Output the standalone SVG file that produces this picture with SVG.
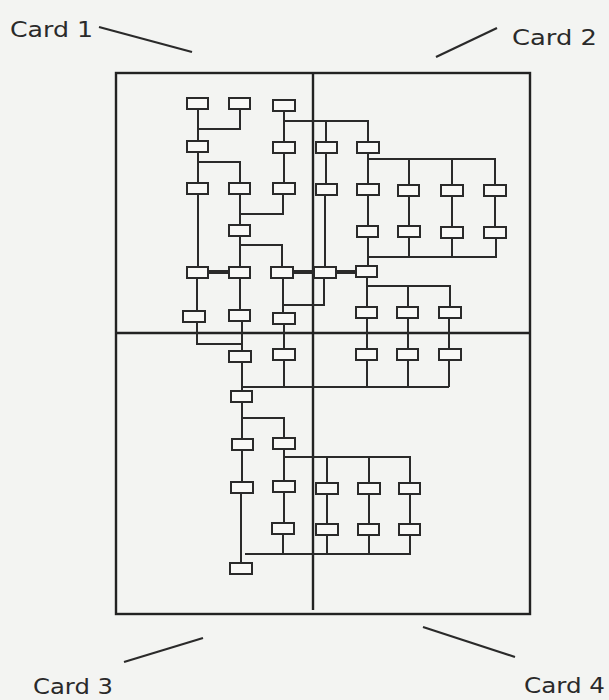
<svg xmlns="http://www.w3.org/2000/svg" width="609" height="700" viewBox="0 0 609 700">
<style>
.bg{fill:#f3f4f2}
.frame{fill:none;stroke:#222;stroke-width:2.4}
.div{stroke:#222;stroke-width:2.4;fill:none}
.n{fill:#f8f8f6;stroke:#2a2a2a;stroke-width:2}
.c{stroke:#2a2a2a;stroke-width:2;fill:none}
.t{stroke:#2a2a2a;stroke-width:4;fill:none}
.lead{stroke:#2a2a2a;stroke-width:2.2;fill:none}
.lbl{font-family:"DejaVu Sans","Liberation Sans",sans-serif;font-size:21px;fill:#2a2a2a}
</style>
<rect class="bg" x="0" y="0" width="609" height="700"/>
<g id="labels">
<text class="lbl" x="10" y="37" textLength="83" lengthAdjust="spacingAndGlyphs">Card 1</text>
<text class="lbl" x="512" y="45" textLength="85" lengthAdjust="spacingAndGlyphs">Card 2</text>
<text class="lbl" x="33" y="694" textLength="80" lengthAdjust="spacingAndGlyphs">Card 3</text>
<text class="lbl" x="524" y="693" textLength="81" lengthAdjust="spacingAndGlyphs">Card 4</text>
<line class="lead" x1="99" y1="27" x2="192" y2="52"/>
<line class="lead" x1="436" y1="57" x2="497" y2="28"/>
<line class="lead" x1="124" y1="662" x2="203" y2="638"/>
<line class="lead" x1="423" y1="627" x2="515" y2="657"/>
</g>
<g id="board">
<rect class="frame" x="116" y="73" width="414" height="541"/>
<line class="div" x1="313" y1="73" x2="313" y2="610"/>
<line class="div" x1="116" y1="333" x2="530" y2="333"/>
</g>
<g id="connectors">
<path class="c" d="M198 109V141M198 152V183M198 194V267M197 278V311M197 322V344H242"/>
<path class="c" d="M198 129H240V109M198 162H240V183"/>
<path class="c" d="M284 111V142M284 153V183M284 121H368V142M326 121V142"/>
<path class="c" d="M240 194V225M240 214H283V194M240 236V267M240 245H282V267"/>
<path class="t" d="M208 272H229M292 272H314M335 272H356"/>
<path class="c" d="M240 278V310M283 278V313M283 305H324V278"/>
<path class="c" d="M242 321V351M284 324V349M242 362V391M284 360V387M242 387H449M367 318V387M408 318V387M449 318V387"/>
<path class="c" d="M326 153V184M325 195V267M368 153V184M368 159H495V185M409 159V185M452 159V185"/>
<path class="c" d="M368 195V226M409 196V226M452 196V227M495 196V227"/>
<path class="c" d="M368 237V266M368 257H496V238M409 237V257M452 238V257"/>
<path class="c" d="M367 277V307M367 286H450V307M408 286V307"/>
<path class="c" d="M242 402V439M242 418H284V438M242 450V482M284 449V481M284 457H410V483M327 457V483M369 457V483"/>
<path class="c" d="M241 493V563M284 492V523M327 494V524M369 494V524M410 494V524M245 554H411M283 534V554M327 535V554M369 535V554M410 535V554"/>
</g>
<g id="nodes">
<g id="n1"><rect class="n" x="187" y="98" width="21" height="11"/></g>
<g id="n2"><rect class="n" x="229" y="98" width="21" height="11"/></g>
<g id="n3"><rect class="n" x="273" y="100" width="22" height="11"/></g>
<g id="n4"><rect class="n" x="187" y="141" width="21" height="11"/></g>
<g id="n5"><rect class="n" x="273" y="142" width="22" height="11"/></g>
<g id="n6"><rect class="n" x="187" y="183" width="21" height="11"/></g>
<g id="n7"><rect class="n" x="229" y="183" width="21" height="11"/></g>
<g id="n8"><rect class="n" x="273" y="183" width="22" height="11"/></g>
<g id="n9"><rect class="n" x="229" y="225" width="21" height="11"/></g>
<g id="n10"><rect class="n" x="187" y="267" width="21" height="11"/></g>
<g id="n11"><rect class="n" x="229" y="267" width="21" height="11"/></g>
<g id="n12"><rect class="n" x="271" y="267" width="22" height="11"/></g>
<g id="n13"><rect class="n" x="183" y="311" width="22" height="11"/></g>
<g id="n14"><rect class="n" x="229" y="310" width="21" height="11"/></g>
<g id="n15"><rect class="n" x="273" y="313" width="22" height="11"/></g>
<g id="n16"><rect class="n" x="316" y="142" width="21" height="11"/></g>
<g id="n17"><rect class="n" x="357" y="142" width="22" height="11"/></g>
<g id="n18"><rect class="n" x="316" y="184" width="21" height="11"/></g>
<g id="n19"><rect class="n" x="357" y="184" width="22" height="11"/></g>
<g id="n20"><rect class="n" x="398" y="185" width="21" height="11"/></g>
<g id="n21"><rect class="n" x="441" y="185" width="22" height="11"/></g>
<g id="n22"><rect class="n" x="484" y="185" width="22" height="11"/></g>
<g id="n23"><rect class="n" x="357" y="226" width="21" height="11"/></g>
<g id="n24"><rect class="n" x="398" y="226" width="22" height="11"/></g>
<g id="n25"><rect class="n" x="441" y="227" width="22" height="11"/></g>
<g id="n26"><rect class="n" x="484" y="227" width="22" height="11"/></g>
<g id="n27"><rect class="n" x="314" y="267" width="22" height="11"/></g>
<g id="n28"><rect class="n" x="356" y="266" width="21" height="11"/></g>
<g id="n29"><rect class="n" x="356" y="307" width="21" height="11"/></g>
<g id="n30"><rect class="n" x="397" y="307" width="21" height="11"/></g>
<g id="n31"><rect class="n" x="439" y="307" width="22" height="11"/></g>
<g id="n32"><rect class="n" x="356" y="349" width="21" height="11"/></g>
<g id="n33"><rect class="n" x="397" y="349" width="21" height="11"/></g>
<g id="n34"><rect class="n" x="439" y="349" width="22" height="11"/></g>
<g id="n35"><rect class="n" x="229" y="351" width="22" height="11"/></g>
<g id="n36"><rect class="n" x="273" y="349" width="22" height="11"/></g>
<g id="n37"><rect class="n" x="231" y="391" width="21" height="11"/></g>
<g id="n38"><rect class="n" x="232" y="439" width="21" height="11"/></g>
<g id="n39"><rect class="n" x="273" y="438" width="22" height="11"/></g>
<g id="n40"><rect class="n" x="231" y="482" width="22" height="11"/></g>
<g id="n41"><rect class="n" x="273" y="481" width="22" height="11"/></g>
<g id="n42"><rect class="n" x="316" y="483" width="22" height="11"/></g>
<g id="n43"><rect class="n" x="358" y="483" width="22" height="11"/></g>
<g id="n44"><rect class="n" x="399" y="483" width="21" height="11"/></g>
<g id="n45"><rect class="n" x="272" y="523" width="22" height="11"/></g>
<g id="n46"><rect class="n" x="316" y="524" width="22" height="11"/></g>
<g id="n47"><rect class="n" x="358" y="524" width="21" height="11"/></g>
<g id="n48"><rect class="n" x="399" y="524" width="21" height="11"/></g>
<g id="n49"><rect class="n" x="230" y="563" width="22" height="11"/></g>
</g>
</svg>
